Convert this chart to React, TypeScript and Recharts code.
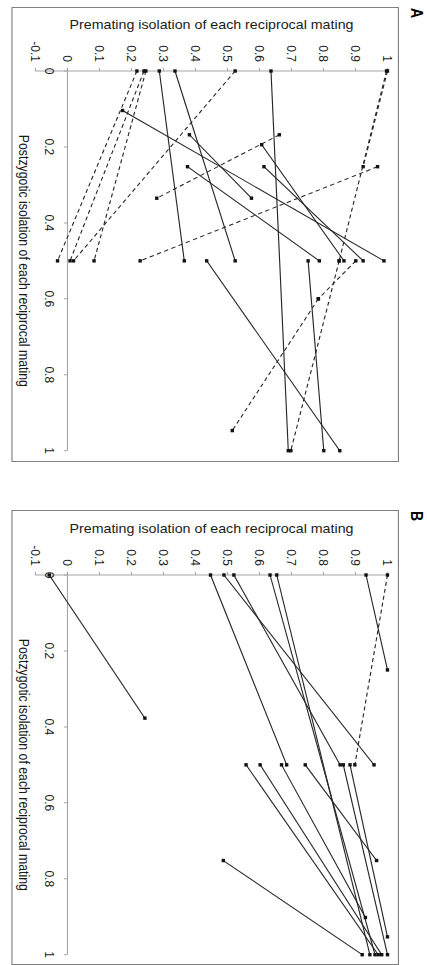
import React from 'react';
import { ScatterChart, Scatter, XAxis, YAxis, ReferenceLine } from 'recharts';

// Axis ticks
const postzygoticTicks = [0, 0.2, 0.4, 0.6, 0.8, 1];
const prematingTicks = [-0.1, 0, 0.1, 0.2, 0.3, 0.4, 0.5, 0.6, 0.7, 0.8, 0.9, 1];

// Each reciprocal pair: [postzygotic1, premating1, postzygotic2, premating2]
const panelASolid = [
  [0, 0.287, 0.5, 0.365],
  [0, 0.336, 0.5, 0.524],
  [0, 0.636, 1, 0.69],
  [0.104, 0.172, 0.5, 0.989],
  [0.168, 0.381, 0.335, 0.575],
  [0.194, 0.607, 0.5, 0.864],
  [0.252, 0.614, 0.5, 0.924],
  [0.252, 0.375, 0.5, 0.787],
  [0.5, 0.435, 1, 0.851],
  [0.5, 0.752, 1, 0.801],
];
const panelADashed = [
  [0, 0.217, 0.5, -0.031],
  [0, 0.239, 0.5, 0.008],
  [0, 0.245, 0.5, 0.083],
  [0, 0.524, 0.5, 0.019],
  [0.252, 0.969, 0.5, 0.227],
  [0.168, 0.662, 0.335, 0.279],
  [0, 1.0, 0.252, 0.924],
  [0, 0.997, 0.5, 0.849],
  [0.5, 0.849, 1, 0.698],
  [0.5, 0.901, 0.6, 0.784],
  [0.6, 0.784, 0.947, 0.515],
];
const panelBSolid = [
  [0, -0.057, 0.377, 0.242],
  [0, 0.933, 0.25, 1.0],
  [0, 0.447, 0.5, 0.685],
  [0, 0.489, 0.5, 0.958],
  [0, 0.52, 0.5, 0.852],
  [0, 0.633, 1, 0.961],
  [0, 0.654, 1, 0.945],
  [0.5, 0.558, 1, 0.971],
  [0.5, 0.602, 1, 0.982],
  [0.5, 0.669, 0.902, 0.931],
  [0.5, 0.743, 0.752, 0.966],
  [0.5, 0.862, 1, 1.0],
  [0.5, 0.883, 0.953, 1.0],
  [0.752, 0.487, 1, 0.921],
];
const panelBDashed = [
  [0, 1.0, 0.5, 0.898],
];

const FONT = '"Liberation Sans", Arial, sans-serif';
const TEXT = '#1a1a1a';
const AXIS = '#a6a6a6';
const fmt = (v: number) => String(Math.round(v * 10) / 10);

const Square = (props: any) => {
  const { cx, cy } = props;
  if (cx == null || cy == null) return null;
  return <rect x={cx - 1.7} y={cy - 1.5} width={3.4} height={3} fill="#111" />;
};

const toPts = (s: number[]) => [
  { x: s[0], y: s[1] },
  { x: s[2], y: s[3] },
];

function Panel({ letter, top, shift, solid, dashed }: any) {
  const W = 455;
  const H = 342.5;
  return (
    <div
      style={{
        position: 'absolute',
        left: 0,
        top: 0,
        width: W,
        height: H,
        transformOrigin: '0 0',
        transform: `translate(399px, ${top}px) scale(1.13, 1) rotate(90deg)`,
      }}
    >
      <div
        style={{
          position: 'absolute',
          left: 0,
          top: 0,
          width: W,
          height: H,
          border: '1px solid #808080',
          boxSizing: 'border-box',
        }}
      />
      <div
        style={{
          position: 'absolute',
          left: 1,
          top: -24.5,
          font: `bold 14px ${FONT}`,
          lineHeight: '16px',
          color: '#000',
        }}
      >
        {letter}
      </div>
      <div style={{ position: 'absolute', left: 0, top: 0 }}>
        <ScatterChart
          width={W}
          height={H}
          margin={{ top: 10.2, right: 11.3 - shift, bottom: 0, left: shift }}
        >
          <XAxis
            type="number"
            dataKey="x"
            domain={[0, 1]}
            ticks={postzygoticTicks}
            tick={false}
            axisLine={false}
            tickLine={false}
            height={20.8}
            label={{
              value: 'Postzygotic isolation of each reciprocal mating',
              position: 'insideBottom',
              offset: 6,
              fill: TEXT,
              fontSize: 12.3,
              fontFamily: FONT,
            }}
          />
          <YAxis
            type="number"
            dataKey="y"
            domain={[-0.1, 1]}
            ticks={prematingTicks}
            interval={0}
            tickFormatter={fmt}
            width={64}
            axisLine={{ stroke: AXIS }}
            tickLine={{ stroke: AXIS }}
            tickSize={3}
            tickMargin={6}
            tick={{ fill: TEXT, fontSize: 12, fontFamily: FONT }}
            label={{
              value: 'Premating isolation of each reciprocal mating',
              angle: -90,
              position: 'insideLeft',
              offset: 17.5,
              fill: TEXT,
              fontSize: 12.6,
              fontFamily: FONT,
              style: { textAnchor: 'middle' },
            }}
          />
          <ReferenceLine
            segment={[
              { x: 0, y: 0 },
              { x: 1, y: 0 },
            ]}
            stroke={AXIS}
          />
          {postzygoticTicks.map((t) => (
            <ReferenceLine
              key={'t' + t}
              segment={[
                { x: t, y: 0 },
                { x: t, y: -0.011 },
              ]}
              stroke={AXIS}
              label={{
                value: fmt(t),
                position: 'bottom',
                offset: 8,
                fill: TEXT,
                fontSize: 12,
                fontFamily: FONT,
              }}
            />
          ))}
          {solid.map((s: number[], i: number) => (
            <Scatter
              key={'s' + i}
              data={toPts(s)}
              line={{ stroke: '#262626', strokeWidth: 1 }}
              shape={Square}
              fill="#111"
              isAnimationActive={false}
            />
          ))}
          {dashed.map((s: number[], i: number) => (
            <Scatter
              key={'d' + i}
              data={toPts(s)}
              line={{ stroke: '#262626', strokeWidth: 1, strokeDasharray: '4 3' }}
              shape={Square}
              fill="#111"
              isAnimationActive={false}
            />
          ))}
        </ScatterChart>
      </div>
    </div>
  );
}

export default function App() {
  return (
    <div
      style={{
        position: 'absolute',
        left: 0,
        top: 0,
        width: 427,
        height: 965,
        overflow: 'hidden',
        background: '#fff',
      }}
    >
      <Panel letter="A" top={7} shift={0} solid={panelASolid} dashed={panelADashed} />
      <Panel letter="B" top={510} shift={1} solid={panelBSolid} dashed={panelBDashed} />
    </div>
  );
}
